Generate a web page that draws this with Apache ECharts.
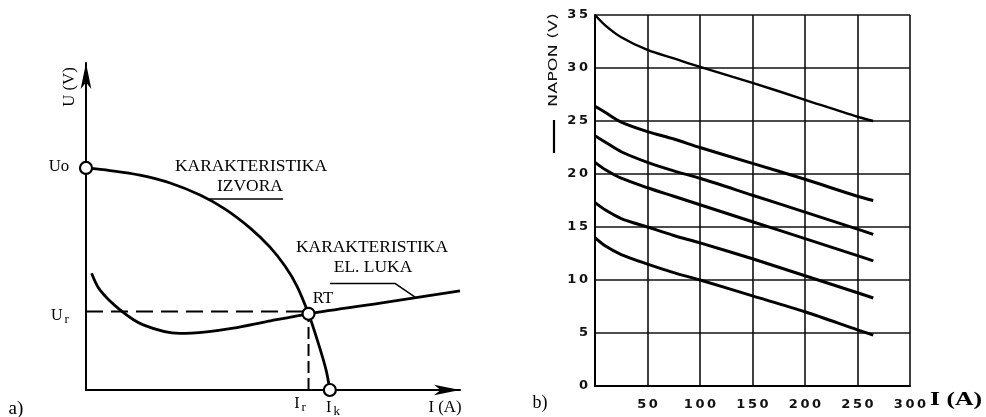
<!DOCTYPE html>
<html>
<head>
<meta charset="utf-8">
<script src="https://cdn.jsdelivr.net/npm/echarts@6/dist/echarts.min.js"></script>
<style>html,body{margin:0;padding:0;background:#fff}#c{width:986px;height:417px}</style>
</head>
<body>
<div id="c"></div>
<script>
// ---------- Panel a (schematic, arbitrary units 0..100) ----------
const srcX = [0, 6.4, 14.4, 22.5, 30.5, 37.2, 43.9, 49.2, 53.2, 56.4, 59.5, 62.0, 64.2, 65.2];
const srcY = [67.9, 67.1, 65.7, 63.3, 59.6, 55.3, 49.5, 43.7, 37.9, 31.8, 23.3, 14.7, 6.1, 0];
const arcX = [1.5, 3.7, 9.1, 15.3, 25.1, 32.3, 39.4, 48.3, 59.5, 80, 100];
const arcY = [35.7, 30.6, 24.5, 19.9, 17.3, 17.8, 18.9, 20.9, 23.3, 26.8, 30.3];
const pointX = [0, 59.5, 65.2];      // Uo, RT, Ik
const pointY = [67.9, 23.3, 0];
const urLevel = 24.0;                 // dashed Ur level
const izvoraLeaderX = [32.5, 52.7];
const izvoraLeaderY = [58.4, 58.4];
const lukaLeaderX = [65.2, 82.6, 88.0];
const lukaLeaderY = [32.6, 32.6, 28.4];

// ---------- Panel b (NAPON vs I) ----------
const currentA = [0, 10, 25, 50, 75, 100, 150, 200, 250, 265];
const curve1 = [35.0, 34.0, 32.9, 31.7, 30.9, 30.1, 28.6, 27.0, 25.4, 25.0];
const curve2 = [26.4, 25.8, 24.9, 24.0, 23.3, 22.5, 21.0, 19.5, 17.9, 17.5];
const curve3 = [23.6, 23.0, 22.1, 21.1, 20.3, 19.6, 18.0, 16.4, 14.8, 14.3];
const curve4 = [21.1, 20.4, 19.6, 18.7, 17.9, 17.1, 15.5, 13.9, 12.3, 11.8];
const curve5 = [17.3, 16.6, 15.8, 15.0, 14.2, 13.5, 12.0, 10.4, 8.8, 8.3];
const curve6 = [14.0, 13.2, 12.4, 11.5, 10.7, 10.0, 8.5, 7.0, 5.3, 4.8];
const voltTicks = [0, 5, 10, 15, 20, 25, 30, 35];
const currTicks = [0, 50, 100, 150, 200, 250, 300];

const zip = (xs, ys) => xs.map((x, i) => [x, ys[i]]);
const spaced = s => String(s).split('').join('\u2009');

const blackLine = (w, extra) => Object.assign({ color: '#000', width: w }, extra || {});
const serif = 'Liberation Serif, Times New Roman, serif';

const series = [];
// panel a
series.push({ type: 'line', xAxisIndex: 0, yAxisIndex: 0, data: zip(srcX, srcY), smooth: 0.3, symbol: 'none', lineStyle: blackLine(2.8), z: 3 });
series.push({ type: 'line', xAxisIndex: 0, yAxisIndex: 0, data: zip(arcX, arcY), smooth: 0.3, symbol: 'none', lineStyle: blackLine(2.8), z: 3 });
series.push({ type: 'line', xAxisIndex: 0, yAxisIndex: 0, data: [[0, urLevel], [pointX[1], urLevel]], symbol: 'none', lineStyle: blackLine(2, { type: [17, 8] }), z: 2 });
series.push({ type: 'line', xAxisIndex: 0, yAxisIndex: 0, data: [[pointX[1], 0], [pointX[1], pointY[1]]], symbol: 'none', lineStyle: blackLine(2, { type: [12, 5] }), z: 2 });
series.push({ type: 'line', xAxisIndex: 0, yAxisIndex: 0, data: zip(izvoraLeaderX, izvoraLeaderY), symbol: 'none', lineStyle: blackLine(1.5), z: 2 });
series.push({ type: 'line', xAxisIndex: 0, yAxisIndex: 0, data: zip(lukaLeaderX, lukaLeaderY), symbol: 'none', lineStyle: blackLine(1.5), z: 2 });
series.push({ type: 'scatter', xAxisIndex: 0, yAxisIndex: 0, data: zip(pointX, pointY), symbol: 'circle', symbolSize: 12, clip: false,
  itemStyle: { color: '#fff', borderColor: '#000', borderWidth: 2.2, opacity: 1 }, z: 5 });
// panel b
[curve1, curve2, curve3, curve4, curve5, curve6].forEach((c, k) => {
  series.push({ type: 'line', xAxisIndex: 1, yAxisIndex: 1, data: zip(currentA, c), smooth: 0.3, symbol: 'none',
    lineStyle: blackLine(k === 0 ? 2.4 : 3), z: 3 });
});

const txt = (text, x, y, size, opts) => Object.assign({
  type: 'text', x: x, y: y, z: 10,
  style: Object.assign({ text: text, fill: '#000', font: size + 'px ' + serif, align: 'center', verticalAlign: 'middle' }, (opts && opts.style) || {})
}, (opts && opts.el) || {});
const sub = (main, s, x, y) => ({ type: 'text', x: x, y: y, z: 10, style: { text: '{u|' + main + '}{s|' + s + '}', align: 'center', verticalAlign: 'middle',
  rich: { u: { font: '16px ' + serif, fill: '#000' }, s: { font: '13px ' + serif, fill: '#000', padding: [7, 0, 0, 2] } } } });

const option = {
  animation: false,
  backgroundColor: '#fff',
  grid: [
    { left: 86, top: 63, width: 374, height: 327, outerBoundsMode: 'none' },
    { left: 595, top: 15, width: 315, height: 371, outerBoundsMode: 'none' }
  ],
  xAxis: [
    { gridIndex: 0, type: 'value', min: 0, max: 100,
      axisLine: { show: true, symbol: ['none', 'arrow'], symbolSize: [8, 26], lineStyle: blackLine(2) },
      axisTick: { show: false }, axisLabel: { show: false }, splitLine: { show: false } },
    { gridIndex: 1, type: 'value', min: 0, max: 300, interval: 50,
      axisLine: { show: true, onZero: false, lineStyle: blackLine(2) },
      axisTick: { show: false },
      axisLabel: { margin: 12, color: '#111', fontFamily: 'DejaVu Sans', fontWeight: 'bold', fontSize: 13,
        formatter: v => (v === 0 ? '' : spaced(v)) },
      splitLine: { show: true, lineStyle: { color: '#111', width: 1.6 } } }
  ],
  yAxis: [
    { gridIndex: 0, type: 'value', min: 0, max: 100,
      axisLine: { show: true, symbol: ['none', 'arrow'], symbolSize: [8, 26], lineStyle: blackLine(2) },
      axisTick: { show: false }, axisLabel: { show: false }, splitLine: { show: false } },
    { gridIndex: 1, type: 'value', min: 0, max: 35, interval: 5,
      axisLine: { show: true, onZero: false, lineStyle: blackLine(2) },
      axisTick: { show: false },
      axisLabel: { margin: 7, color: '#111', fontFamily: 'DejaVu Sans', fontWeight: 'bold', fontSize: 13, formatter: v => spaced(v) },
      splitLine: { show: true, lineStyle: { color: '#111', width: 1.6 } } }
  ],
  series: series,
  graphic: [
    // panel a
    txt('KARAKTERISTIKA', 251, 167, 16, { el: { scaleX: 1.09 } }),
    txt('IZVORA', 250, 187, 16, { el: { scaleX: 1.09 } }),
    txt('KARAKTERISTIKA', 372, 248, 16, { el: { scaleX: 1.09 } }),
    txt('EL. LUKA', 373, 268, 16, { el: { scaleX: 1.09 } }),
    txt('RT', 323, 299, 16, { el: { scaleX: 1.05 } }),
    txt('Uo', 59, 167, 16, { el: { scaleX: 1.05 } }),
    sub('U', 'r', 60, 316),
    sub('I', 'r', 300, 404),
    sub('I', 'k', 333, 408),
    txt('I (A)', 445, 408, 16, { el: { scaleX: 1.05 } }),
    txt('a)', 16, 409, 19),
    txt('U (V)', 70, 87, 16, { el: { rotation: Math.PI / 2, scaleX: 1.05 } }),
    // panel b
    txt('NAPON (V)', 554, 60, 13, { el: { rotation: Math.PI / 2, scaleX: 1.35 }, style: { font: '13px DejaVu Sans', fill: '#111' } }),
    { type: 'line', z: 10, shape: { x1: 554, y1: 120, x2: 554, y2: 153 }, style: { stroke: '#000', lineWidth: 2.2 } },
    txt('b)', 540, 403, 18),
    txt('I (A)', 956, 400, 19, { el: { scaleX: 1.35 }, style: { font: 'bold 19px ' + serif } })
  ]
};

const chart = echarts.init(document.getElementById('c'), null, { renderer: 'canvas' });
chart.setOption(option);
</script>
</body>
</html>
